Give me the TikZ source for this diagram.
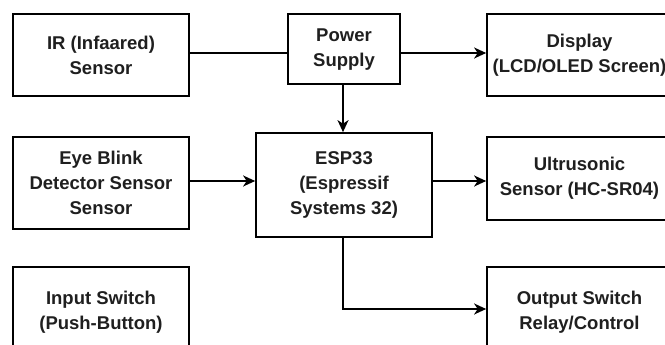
\documentclass[tikz,border=0pt]{standalone}
\usepackage{fontspec}
\setmainfont{Liberation Sans}
\usetikzlibrary{arrows.meta}
\begin{document}
\begin{tikzpicture}[x=1pt,y=1pt,
  blk/.style={draw=black, line width=1.7pt, align=center, inner sep=0pt,
    font=\fontsize{18.5}{25}\selectfont\bfseries, text=black!88},
  conn/.style={line width=1.7pt, draw=black},
  arr/.style={conn, -{Stealth[length=12pt,width=11pt,inset=3.5pt]}}]
\useasboundingbox (0,0) rectangle (665,345);
\clip (0,0) rectangle (665,345);
\fill[white] (0,0) rectangle (665,345);
% nodes (y measured up from bottom)
\node[blk, minimum width=176pt, minimum height=82pt] (ir) at (101,290) {IR (Infaared)\\Sensor};
\node[blk, minimum width=112pt, minimum height=70pt, text depth=2pt] (pw) at (344,296) {Power\\Supply};
\node[blk, minimum width=185pt, minimum height=82pt] (disp) at (579.5,290) {Display\\(LCD/OLED Screen)};
\node[blk, minimum width=176pt, minimum height=92pt] (eye) at (101,162) {Eye Blink\\Detector Sensor\\Sensor};
\node[blk, minimum width=176pt, minimum height=104pt] (esp) at (344,160) {ESP33\\(Espressif\\Systems 32)};
\node[blk, minimum width=185pt, minimum height=83pt] (ultra) at (579.5,166.5) {Ultrusonic\\Sensor (HC-SR04)};
\node[blk, minimum width=176pt, minimum height=90pt] (inp) at (101,33) {Input Switch\\(Push-Button)};
\node[blk, minimum width=185pt, minimum height=90pt] (outp) at (579.5,33) {Output Switch\\Relay/Control};
% connectors
\coordinate (a) at ([yshift=2pt]ir.east);
\draw[conn] (a) -- (a -| pw.west);
\coordinate (b) at ([yshift=-4pt]pw.east);
\draw[arr] (b) -- (b -| disp.west);
\draw[arr] ([xshift=-1pt]pw.south) -- ([xshift=-1pt]esp.north);
\coordinate (c) at ([yshift=2pt]eye.east);
\draw[arr] (c) -- (c -| esp.west);
\coordinate (d) at ([yshift=4pt]esp.east);
\draw[arr] (d) -- (d -| ultra.west);
\coordinate (e) at ([xshift=-1pt]esp.south);
\coordinate (f) at ([yshift=3pt]outp.west);
\draw[arr] (e) |- (f);
\end{tikzpicture}
\end{document}
